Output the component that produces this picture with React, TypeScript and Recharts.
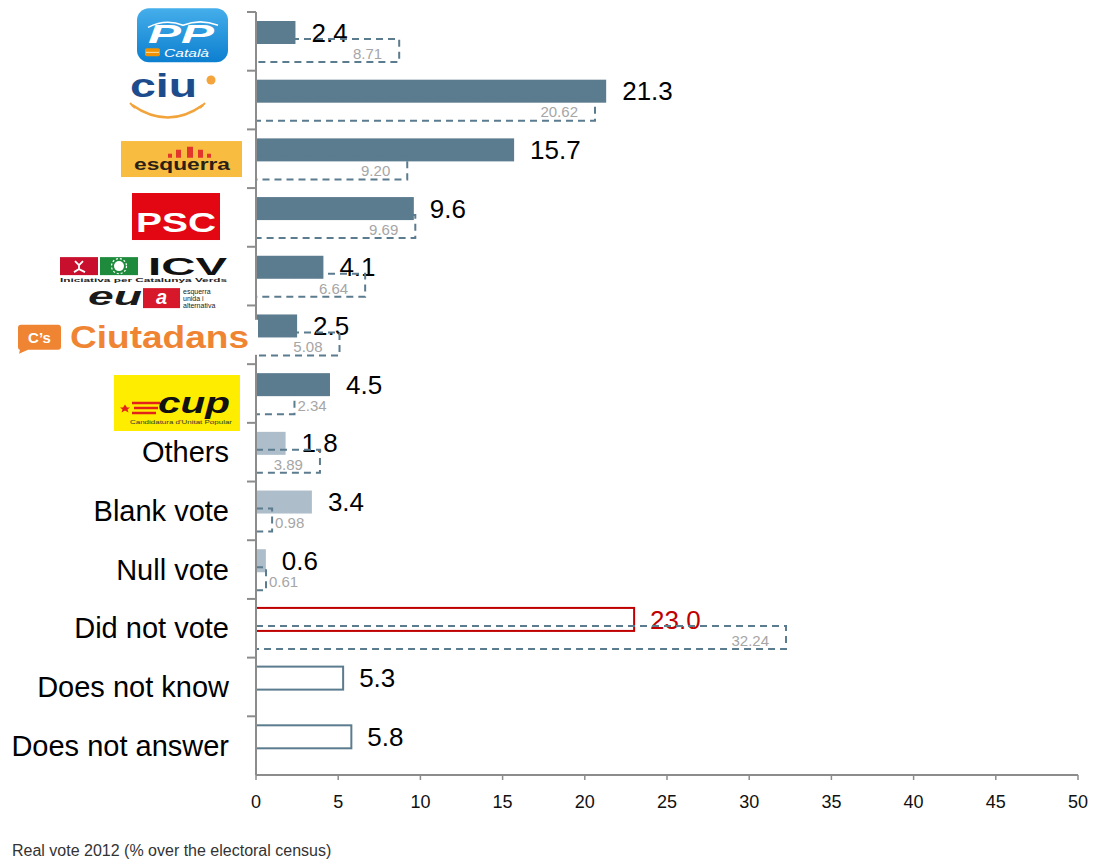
import React from 'react';
import { BarChart, Bar, XAxis, YAxis } from 'recharts';

const categories = ['PP', 'CiU', 'ERC', 'PSC', 'ICV-EUiA', "C's", 'CUP', 'Others', 'Blank vote', 'Null vote', 'Did not vote', 'Does not know', 'Does not answer'];
const surveyValues = [2.4, 21.3, 15.7, 9.6, 4.1, 2.5, 4.5, 1.8, 3.4, 0.6, 23.0, 5.3, 5.8];
const realVote2012: (number | null)[] = [8.71, 20.62, 9.2, 9.69, 6.64, 5.08, 2.34, 3.89, 0.98, 0.61, 32.24, null, null];
const xTicks = [0, 5, 10, 15, 20, 25, 30, 35, 40, 45, 50];
const footnote = 'Real vote 2012 (% over the electoral census)';

const data = categories.map((name, i) => ({ name, survey: surveyValues[i], real: realVote2012[i] }));

const FONT = '"Liberation Sans", Arial, Helvetica, sans-serif';
const STEEL = '#5B7B8E';
const LIGHT = '#ADBECA';
const RED = '#C00000';
const AXIS = '#8C8C8C';
const PLOT_H = 763;
const BAND = PLOT_H / categories.length;

function styleFor(name: string) {
  if (name === 'Others' || name === 'Blank vote' || name === 'Null vote') return { fill: LIGHT, stroke: 'none', strokeWidth: 0 };
  if (name === 'Did not vote') return { fill: '#ffffff', stroke: RED, strokeWidth: 2 };
  if (name === 'Does not know' || name === 'Does not answer') return { fill: '#ffffff', stroke: STEEL, strokeWidth: 2 };
  return { fill: STEEL, stroke: 'none', strokeWidth: 0 };
}

function Logo({ name }: { name: string }) {
  switch (name) {
    case 'PP':
      return (
        <g>
          <defs>
            <linearGradient id="ppGrad" x1="0" y1="0" x2="0" y2="1">
              <stop offset="0" stopColor="#45AEEB" />
              <stop offset="1" stopColor="#0C7FCF" />
            </linearGradient>
          </defs>
          <rect x={-119} y={-33} width={91} height={54} rx={12} fill="url(#ppGrad)" />
          <path d="M -108 -14 Q -90 -23 -73 -16 Q -56 -23 -38 -16" stroke="#fff" strokeWidth={1.6} fill="none" />
          <text x={-75} y={2} textAnchor="middle" fontSize={25} fontWeight="bold" fontStyle="italic" fill="#fff" textLength={66} lengthAdjust="spacingAndGlyphs">PP</text>
          <rect x={-111} y={7} width={15} height={8} rx={2} fill="#F39200" />
          <line x1={-110} x2={-97} y1={11} y2={11} stroke="#FCE3B0" strokeWidth={1} />
          <text x={-92} y={16} fontSize={10.5} fontStyle="italic" fill="#fff" textLength={45} lengthAdjust="spacingAndGlyphs">Català</text>
        </g>
      );
    case 'CiU':
      return (
        <g>
          <text x={-126} y={-3} fontSize={34} fontWeight={600} fill="#1D4C8C" textLength={67} lengthAdjust="spacingAndGlyphs">ciu</text>
          <circle cx={-45} cy={-20} r={4.5} fill="#F4A43A" />
          <path d="M -124 5 Q -88 30 -53 5" stroke="#F2A33A" strokeWidth={2.5} fill="none" />
          <line x1={-126} x2={-121} y1={3} y2={8} stroke="#F2A33A" strokeWidth={2} />
          <line x1={-51} x2={-56} y1={3} y2={8} stroke="#F2A33A" strokeWidth={2} />
        </g>
      );
    case 'ERC':
      return (
        <g>
          <rect x={-135} y={-17.7} width={121} height={36} fill="#F8BD40" />
          <rect x={-88} y={-5} width={4} height={4} fill="#E2352B" />
          <rect x={-80} y={-9} width={5} height={8} fill="#E2352B" />
          <rect x={-69} y={-12} width={6} height={11} fill="#E2352B" />
          <rect x={-58} y={-9} width={5} height={8} fill="#E2352B" />
          <rect x={-49} y={-5} width={4} height={4} fill="#E2352B" />
          <text x={-122} y={11} fontSize={17} fontWeight="bold" fill="#2B2016" textLength={96} lengthAdjust="spacingAndGlyphs">esquerra</text>
        </g>
      );
    case 'PSC':
      return (
        <g>
          <rect x={-124} y={-24.4} width={88} height={47} fill="#E30613" />
          <text x={-80} y={14.6} textAnchor="middle" fontSize={27} fontWeight="bold" fill="#fff" textLength={80} lengthAdjust="spacingAndGlyphs">PSC</text>
        </g>
      );
    case 'ICV-EUiA':
      return (
        <g>
          <rect x={-196} y={-19} width={38} height={18} fill="#C8102E" />
          <path d="M -181 -15 L -177 -11 L -173 -15 M -177 -11 L -177 -7 L -182 -4 M -177 -7 L -171 -4" stroke="#fff" strokeWidth={1.8} fill="none" />
          <rect x={-156} y={-19} width={38} height={18} fill="#1E8B3C" />
          <circle cx={-137} cy={-10} r={5} fill="#fff" />
          <circle cx={-137} cy={-10} r={7.5} fill="none" stroke="#fff" strokeWidth={1.2} strokeDasharray="2 2" />
          <text x={-108} y={-1} fontSize={23} fontWeight="bold" fill="#111" textLength={79} lengthAdjust="spacingAndGlyphs">ICV</text>
          <text x={-196} y={6} fontSize={5.5} fontWeight="bold" fill="#222" textLength={167} lengthAdjust="spacingAndGlyphs">Iniciativa per Catalunya Verds</text>
          <text x={-168} y={29} fontSize={26} fontWeight="bold" fontStyle="italic" fill="#1a1a1a" textLength={54} lengthAdjust="spacingAndGlyphs">eu</text>
          <rect x={-113} y={12} width={37} height={20} fill="#D7182A" />
          <text x={-94.5} y={28} textAnchor="middle" fontSize={20} fontWeight="bold" fontStyle="italic" fill="#fff">a</text>
          <text x={-73} y={18} fontSize={7} fill="#222">esquerra</text>
          <text x={-73} y={25} fontSize={7} fill="#222">unida i</text>
          <text x={-73} y={32} fontSize={7} fill="#222">alternativa</text>
        </g>
      );
    case "C's":
      return (
        <g>
          <rect x={-242} y={-15} width={244} height={35} fill="#fff" />
          <path d="M -235 -10 L -198 -10 Q -195 -10 -195 -7 L -195 12 Q -195 15 -198 15 L -228 15 L -237 19 L -236 15 Q -238 15 -238 12 L -238 -7 Q -238 -10 -235 -10 Z" fill="#EF8533" />
          <text x={-216.5} y={8.5} textAnchor="middle" fontSize={15} fontWeight="bold" fill="#fff">C’s</text>
          <text x={-186} y={13} fontSize={32} fontWeight="bold" fill="#EF8533" textLength={179} lengthAdjust="spacingAndGlyphs">Ciutadans</text>
        </g>
      );
    case 'CUP':
      return (
        <g>
          <rect x={-142} y={-18.5} width={126} height={56} fill="#FFED00" />
          <line x1={-124} x2={-96} y1={9.5} y2={9.5} stroke="#E2231A" strokeWidth={2.5} />
          <line x1={-122} x2={-98} y1={14.5} y2={14.5} stroke="#E2231A" strokeWidth={2.5} />
          <line x1={-124} x2={-100} y1={19.5} y2={19.5} stroke="#E2231A" strokeWidth={2.5} />
          <polygon points="-131,11 -129,14 -126,14 -128.5,16 -127.5,19 -131,17 -134.5,19 -133.5,16 -136,14 -133,14" fill="#E2231A" />
          <text x={-98} y={19} fontSize={30} fontWeight="bold" fontStyle="italic" fill="#111" textLength={72} lengthAdjust="spacingAndGlyphs">cup</text>
          <text x={-126} y={30} fontSize={5} fill="#333" textLength={102} lengthAdjust="spacingAndGlyphs">Candidatura d'Unitat Popular</text>
        </g>
      );
    default:
      return (
        <text x={-27} y={0} dy="0.35em" textAnchor="end" fontSize={29} fill="#000">{name}</text>
      );
  }
}

function CategoryTick(props: any) {
  const { x, y, payload } = props;
  return (
    <g transform={`translate(${x},${y})`}>
      <line x1={-9} x2={0} y1={-BAND / 2} y2={-BAND / 2} stroke={AXIS} strokeWidth={2} />
      <Logo name={payload.value} />
    </g>
  );
}

function SurveyShape(props: any) {
  const { x, y, width, height, payload } = props;
  if (!payload || payload.survey == null || !isFinite(width)) return null;
  const st = styleFor(payload.name);
  return (
    <g>
      <rect x={x} y={y} width={width} height={height} fill={st.fill} stroke={st.stroke} strokeWidth={st.strokeWidth} />
      <text x={x + width + 16} y={y + height / 2} dy="0.35em" fontSize={26} fill={payload.name === 'Did not vote' ? RED : '#000'}>
        {payload.survey.toFixed(1)}
      </text>
    </g>
  );
}

function RealShape(props: any) {
  const { x, y, width, height, payload } = props;
  const v = payload ? payload.real : null;
  if (v == null || !(width > 0)) return null;
  const end = x + width;
  const inside = width > 55;
  return (
    <g>
      <rect x={x} y={y} width={width} height={height} fill="none" stroke={STEEL} strokeWidth={2} strokeDasharray="7 5" />
      <text x={inside ? end - 17 : end + 3} y={y + height / 2 + 3} dy="0.35em" textAnchor={inside ? 'end' : 'start'} fontSize={15} fill="#A6A6A6">
        {v.toFixed(2)}
      </text>
    </g>
  );
}

export default function App() {
  return (
    <div style={{ position: 'absolute', left: 0, top: 0, width: 1093, height: 863, overflow: 'hidden', fontFamily: FONT, background: '#fff' }}>
      <BarChart
        width={1093}
        height={863}
        data={data}
        layout="vertical"
        margin={{ top: 12, right: 15, bottom: 48, left: 0 }}
        barSize={23}
        barGap={-5}
      >
        <XAxis
          type="number"
          domain={[0, 50]}
          ticks={xTicks}
          interval={0}
          height={40}
          axisLine={{ stroke: AXIS, strokeWidth: 2 }}
          tickLine={{ stroke: AXIS, strokeWidth: 1.5 }}
          tickSize={5}
          tickMargin={15}
          tick={{ fontSize: 18, fill: '#111' }}
        />
        <YAxis
          type="category"
          dataKey="name"
          width={256}
          interval={0}
          tickSize={0}
          tickMargin={0}
          tickLine={false}
          axisLine={{ stroke: AXIS, strokeWidth: 2 }}
          tick={(p: any) => <CategoryTick {...p} />}
        />
        <Bar dataKey="survey" shape={(p: any) => <SurveyShape {...p} />} isAnimationActive={false} />
        <Bar dataKey="real" shape={(p: any) => <RealShape {...p} />} isAnimationActive={false} />
      </BarChart>
      <div style={{ position: 'absolute', left: 12, top: 843, fontSize: 16, lineHeight: '16px', color: '#333', whiteSpace: 'nowrap' }}>
        {footnote}
      </div>
    </div>
  );
}
